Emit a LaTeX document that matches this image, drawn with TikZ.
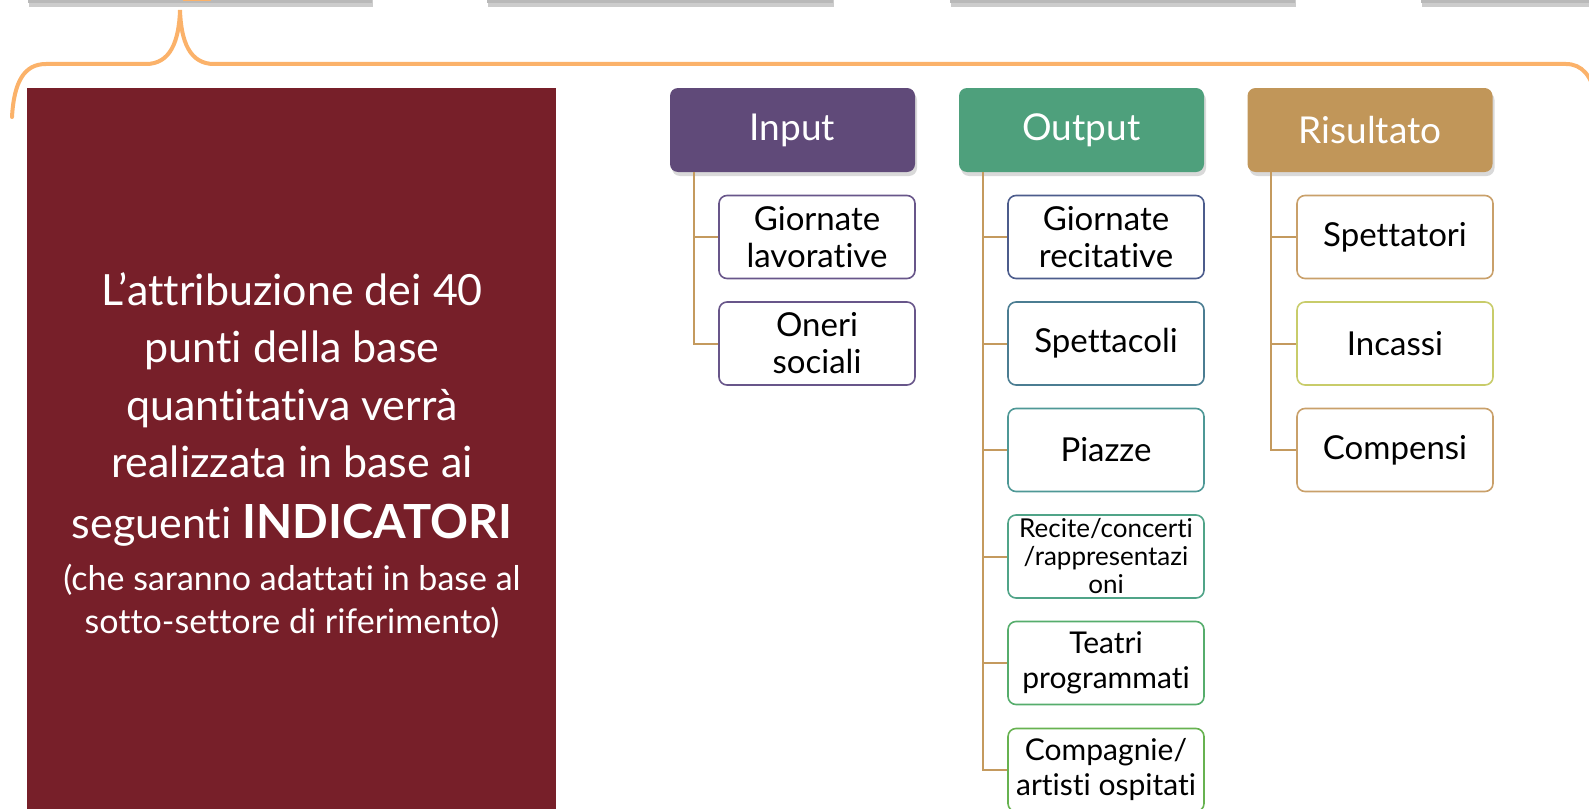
\documentclass[tikz,border=0pt]{standalone}
\usepackage{fontspec}
\setmainfont{Lato}[Ligatures=NoCommon]
\usepackage{xcolor}
\usepackage{tikz}
\usetikzlibrary{positioning,shadows}

\definecolor{wine}{RGB}{119,31,41}
\definecolor{bracecol}{RGB}{251,178,106}
\definecolor{inputcol}{RGB}{96,74,121}
\definecolor{outputcol}{RGB}{78,160,124}
\definecolor{resultcol}{RGB}{193,150,89}
\definecolor{linkcol}{RGB}{196,154,94}
\definecolor{inleaf}{RGB}{104,86,138}
\definecolor{outleafa}{RGB}{76,92,140}
\definecolor{outleafb}{RGB}{75,125,146}
\definecolor{outleafc}{RGB}{78,152,150}
\definecolor{outleafd}{RGB}{80,164,136}
\definecolor{outleafe}{RGB}{86,173,108}
\definecolor{outleaff}{RGB}{103,178,80}
\definecolor{resleafa}{RGB}{201,160,106}
\definecolor{resleafb}{RGB}{200,204,106}

\begin{document}
\begin{tikzpicture}[x=1pt,y=-1pt,
    head/.style={rounded corners=8pt,minimum width=245pt,minimum height=84pt,text=white,font=\fontsize{37}{40}\selectfont,drop shadow={opacity=0.3,shadow xshift=2pt,shadow yshift=-4pt}},
    leaf/.style={draw,line width=1.6pt,rounded corners=8pt,fill=white,minimum width=196pt,minimum height=83pt,align=center,inner sep=1pt,font=\fontsize{33}{37}\selectfont},
    small/.style={font=\fontsize{26}{28}\selectfont},
    link/.style={draw=linkcol,line width=2pt},
    brace/.style={draw=bracecol,line width=4pt,line cap=round},
    topbar/.style={fill=gray!55,drop shadow={opacity=0.4,shadow xshift=1pt,shadow yshift=-4pt}}]
    \useasboundingbox (0,0) rectangle (1589,808);

    % cut off bars of the slide above
    \fill[topbar] (28,-20) rectangle (372,3);
    \fill[topbar] (487,-20) rectangle (833,3);
    \fill[topbar] (950,-20) rectangle (1295,3);
    \fill[topbar] (1421,-20) rectangle (1610,3);
    \fill[bracecol] (183,-6) rectangle (211,1);

    % brace
    \draw[brace] (12,117) .. controls (14,82) and (24,64) .. (46,64) -- (146,64)
        .. controls (170,64) and (179,42) .. (180,10)
        .. controls (181,42) and (190,64) .. (214,64) -- (1566,64)
        .. controls (1582,64) and (1592,76) .. (1596,98);

    % left panel
    \node[fill=wine,minimum width=529pt,minimum height=740pt,anchor=north west,inner sep=0pt] (panel) at (27,88) {};
    \node[text=white,align=center,font=\fontsize{43}{57.5}\selectfont] (note) at (292,409)
        {L’attribuzione dei 40\\punti della base\\quantitativa verrà\\realizzata in base ai\\[3pt]seguenti {\fontsize{47}{57.5}\selectfont\bfseries INDICATORI}};
    \node[text=white,align=center,font=\fontsize{34}{43}\selectfont] (notesub) at (292,601)
        {(che saranno adattati in base al\\sotto-settore di riferimento)};

    % headers
    \node[head,fill=inputcol] (h_in) at (792.5,130) {Input};
    \node[head,fill=outputcol] (h_out) at (1081.5,130) {Output};
    \node[head,fill=resultcol] (h_res) at (1370,130) {Risultato};

    % Input
    \node[leaf,draw=inleaf] (in_1) at (817,237) {Giornate\\lavorative};
    \node[leaf,draw=inleaf] (in_2) at (817,343.5) {Oneri\\sociali};

    % Output
    \node[leaf,draw=outleafa] (out_1) at (1106,237) {Giornate\\recitative};
    \node[leaf,draw=outleafb] (out_2) at (1106,343.5) {Spettacoli};
    \node[leaf,draw=outleafc] (out_3) at (1106,450) {Piazze};
    \node[leaf,draw=outleafd,small] (out_4) at (1106,556.5) {Recite/concerti\\/rappresentazi\\oni};
    \node[leaf,draw=outleafe,font=\fontsize{30}{35}\selectfont] (out_5) at (1106,663) {Teatri\\programmati};
    \node[leaf,draw=outleaff,font=\fontsize{30}{35}\selectfont] (out_6) at (1106,770) {Compagnie/\\artisti ospitati};

    % Risultato
    \node[leaf,draw=resleafa] (res_1) at (1395,237) {Spettatori};
    \node[leaf,draw=resleafb] (res_2) at (1395,343.5) {Incassi};
    \node[leaf,draw=resleafa] (res_3) at (1395,450) {Compensi};

    \draw[link] ([xshift=24pt]h_in.south west) |- (in_1.west);
    \draw[link] ([xshift=24pt]h_in.south west) |- (in_2.west);
    \draw[link] ([xshift=24pt]h_out.south west) |- (out_1.west);
    \draw[link] ([xshift=24pt]h_out.south west) |- (out_2.west);
    \draw[link] ([xshift=24pt]h_out.south west) |- (out_3.west);
    \draw[link] ([xshift=24pt]h_out.south west) |- (out_4.west);
    \draw[link] ([xshift=24pt]h_out.south west) |- (out_5.west);
    \draw[link] ([xshift=24pt]h_out.south west) |- (out_6.west);
    \draw[link] ([xshift=24pt]h_res.south west) |- (res_1.west);
    \draw[link] ([xshift=24pt]h_res.south west) |- (res_2.west);
    \draw[link] ([xshift=24pt]h_res.south west) |- (res_3.west);

\end{tikzpicture}
\end{document}
